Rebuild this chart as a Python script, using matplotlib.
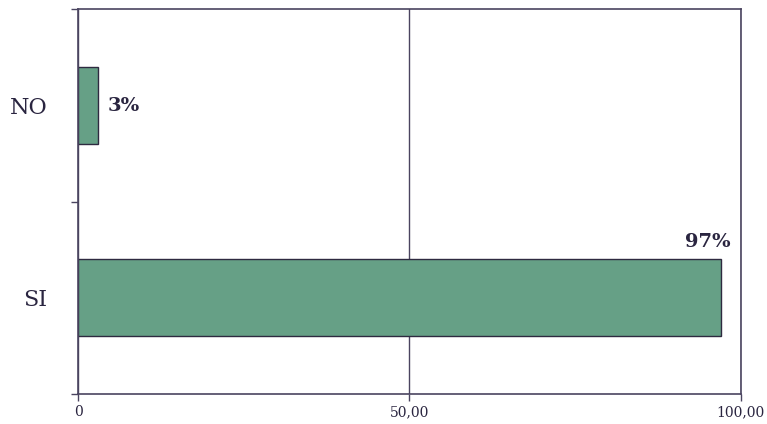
import matplotlib.pyplot as plt
from matplotlib.ticker import FixedLocator, FuncFormatter

# Data
categories = ['SI', 'NO']
values = [97, 3]
value_labels = ['97%', '3%']

bar_color = '#66a086'
edge_color = '#2e2a40'
text_color = '#2a2540'
line_color = '#4a4460'

plt.rcParams['font.family'] = ['DejaVu Serif']

fig = plt.figure(figsize=(7.67, 4.24), dpi=100)
ax = fig.add_axes([0.1017, 0.0708, 0.8643, 0.9068])

pos = list(range(len(categories)))
bars = ax.barh(pos, values, height=0.4, color=bar_color, edgecolor=edge_color, linewidth=1)

ax.set_xlim(0, 100)
ax.set_ylim(-0.5, len(categories) - 0.5)

# vertical gridlines
ax.xaxis.grid(True, color=line_color, linewidth=1)
ax.set_axisbelow(True)

# x ticks
ax.set_xticks([0, 50, 100])
ax.xaxis.set_major_formatter(FuncFormatter(lambda v, p: '0' if v == 0 else f'{v:.2f}'.replace('.', ',')))
ax.tick_params(axis='x', length=5, width=1, color=line_color, labelsize=10, labelcolor=text_color, pad=3)

# y labels at centers, tick marks at boundaries
ax.set_yticks(pos)
ax.set_yticklabels(categories, fontsize=16, color=text_color)
ax.tick_params(axis='y', which='major', length=0, pad=22)
ax.yaxis.set_minor_locator(FixedLocator([-0.5, 0.5, 1.5]))
ax.tick_params(axis='y', which='minor', length=5, width=1, color=line_color)

for s in ax.spines.values():
    s.set_color(line_color)
    s.set_linewidth(1.2)

# value labels
ax.text(values[0] + 1.4, pos[0] + 0.245, value_labels[0], ha='right', va='bottom',
        fontsize=14, fontweight='bold', color=text_color)
ax.text(values[1] + 1.5, pos[1], value_labels[1], ha='left', va='center',
        fontsize=14, fontweight='bold', color=text_color)

fig.savefig('out.png', dpi=100)
